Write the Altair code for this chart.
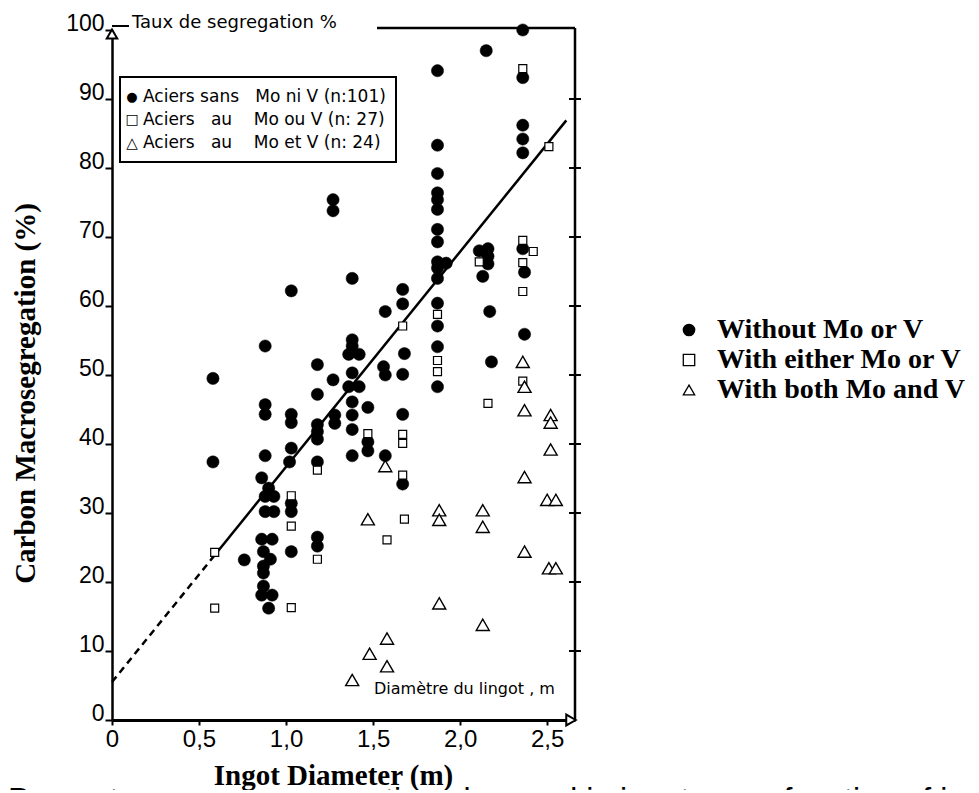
import altair as alt
import pandas as pd

# ---------------- data ----------------
GROUPS = ["Without Mo or V", "With either Mo or V", "With both Mo and V"]

# Steels without Mo or V (filled circles)
circ_x = [2.36, 2.15, 1.87, 2.36, 2.36, 2.36, 2.36, 1.87, 1.87, 1.87,
          1.87, 1.87, 1.87, 1.87, 1.27, 1.27, 2.11, 2.16, 2.16, 2.16,
          2.36, 2.13, 2.37, 2.37, 2.17, 2.18, 1.87, 1.87, 1.92, 1.87,
          1.87, 1.87, 1.87, 1.87, 1.67, 1.67, 1.68, 1.67, 1.67, 1.67,
          1.57, 1.56, 1.57, 1.57, 1.38, 1.38, 1.38, 1.36, 1.42, 1.38,
          1.36, 1.42, 1.38, 1.38, 1.38, 1.38, 1.27, 1.28, 1.28, 1.47,
          1.47, 1.47, 1.18, 1.18, 1.18, 1.18, 1.18, 1.18, 1.03, 1.03,
          1.03, 1.03, 1.02, 0.88, 0.88, 0.88, 0.88, 0.86, 0.90, 0.88,
          0.93, 0.58, 0.58, 0.88, 0.93, 0.86, 0.92, 0.87, 0.91, 0.87,
          0.87, 0.87, 0.86, 0.92, 0.90, 0.76, 1.03, 1.03, 1.03, 1.18,
          1.18]
circ_y = [100.0, 97.0, 94.1, 93.1, 86.2, 84.2, 82.2, 83.3, 79.2, 76.4,
          75.4, 74.0, 71.1, 69.3, 75.4, 73.8, 68.0, 68.3, 67.2, 66.1,
          68.3, 64.3, 64.9, 55.9, 59.2, 51.9, 66.4, 65.5, 66.2, 64.0,
          60.4, 57.1, 54.1, 48.3, 62.4, 60.3, 53.1, 50.1, 44.3, 34.2,
          59.2, 51.2, 50.0, 38.3, 64.0, 55.1, 54.2, 53.0, 53.0, 50.3,
          48.3, 48.3, 46.1, 44.2, 42.1, 38.3, 49.3, 44.2, 43.0, 45.3,
          40.3, 39.0, 51.5, 47.2, 42.8, 41.8, 40.7, 37.4, 62.2, 44.3,
          43.1, 39.4, 37.4, 54.2, 45.7, 44.3, 38.3, 35.1, 33.6, 32.4,
          32.4, 49.5, 37.4, 30.2, 30.2, 26.2, 26.2, 24.4, 23.3, 22.3,
          21.3, 19.4, 18.1, 18.1, 16.2, 23.2, 31.4, 30.2, 24.4, 26.5,
          25.2]

# Steels with Mo or V (open squares)
sq_x = [2.36, 2.51, 2.36, 2.42, 2.11, 2.36, 2.36, 2.16, 2.36, 1.87,
        1.87, 1.87, 1.67, 1.67, 1.67, 1.67, 1.47, 1.18, 1.03, 1.03,
        1.03, 0.59, 0.59, 1.18, 1.58, 1.68]
sq_y = [94.4, 83.1, 69.5, 67.9, 66.4, 66.3, 62.1, 45.9, 49.1, 58.8,
        52.1, 50.5, 57.1, 41.4, 40.1, 35.5, 41.5, 36.2, 32.5, 28.1,
        16.3, 24.3, 16.2, 23.3, 26.1, 29.1]

# Steels with Mo and V (open triangles)
tri_x = [2.36, 2.37, 2.37, 2.52, 2.52, 2.52, 2.37, 1.57, 1.47, 1.88,
         1.88, 2.13, 2.13, 2.37, 2.50, 2.55, 2.51, 2.55, 1.88, 2.13,
         1.58, 1.48, 1.58, 1.38]
tri_y = [51.9, 48.3, 44.9, 44.2, 43.1, 39.2, 35.2, 36.8, 29.1, 30.4,
         29.0, 30.4, 28.0, 24.4, 31.9, 31.9, 22.0, 22.0, 16.9, 13.8,
         11.8, 9.6, 7.8, 5.8]

# trend line (dashed extrapolation, then solid)
trend_dash_x = [0.0, 0.6]
trend_dash_y = [5.5, 24.2]
trend_solid_x = [0.6, 2.61]
trend_solid_y = [24.2, 86.9]

x_ticks = [0, 0.5, 1.0, 1.5, 2.0, 2.5]
y_ticks = [0, 10, 20, 30, 40, 50, 60, 70, 80, 90, 100]
frame_ticks = [10, 20, 30, 40, 50, 60, 70, 80, 90]

fr_symbols = ["\u25cf", "\u25a1", "\u25b3"]
fr_rows = ["Aciers sans\u00a0\u00a0 Mo ni V (n:101)",
           "Aciers\u00a0\u00a0 au\u00a0\u00a0\u00a0 Mo ou V (n: 27)",
           "Aciers\u00a0\u00a0 au\u00a0\u00a0\u00a0 Mo et V (n: 24)"]
caption = "Percentage macrosegregation observed in ingots as a function of ingot diameter"

# ---------------- build ----------------
pts = pd.DataFrame({
    "x": circ_x + sq_x + tri_x,
    "y": circ_y + sq_y + tri_y,
    "group": [GROUPS[0]] * len(circ_x) + [GROUPS[1]] * len(sq_x) + [GROUPS[2]] * len(tri_x),
})

W, H = 463, 690
xs = alt.Scale(domain=[0, 2.66], nice=False, zero=False)
ys = alt.Scale(domain=[0, 100], nice=False, zero=False)

x_axis = alt.Axis(
    values=x_ticks, grid=False,
    labelExpr="datum.value == 0 ? '0' : replace(format(datum.value, '.1f'), '.', ',')",
    domainColor="black", domainWidth=3, tickColor="black", tickWidth=2, tickSize=5,
    labelFont="Liberation Sans", labelFontSize=24, labelColor="black", labelPadding=2,
    labelFlush=False,
    title="Ingot Diameter (m)", titleFont="Liberation Serif", titleFontSize=29,
    titleFontWeight="bold", titleColor="black", titleX=221, titleY=55, titleBaseline="middle",
)
y_axis = alt.Axis(
    values=y_ticks, grid=False,
    domainColor="black", domainWidth=2.5, tickColor="black", tickWidth=2, tickSize=7,
    labelFont="Liberation Sans", labelFontSize=23, labelColor="black", labelPadding=1,
    labelBaseline="alphabetic", labelFlush=False,
    title="Carbon Macrosegregation (%)", titleFont="Liberation Serif", titleFontSize=29,
    titleFontWeight="bold", titleColor="black", titleX=-87, titleY=363, titleBaseline="middle",
)

X = alt.X("x:Q", scale=xs, axis=x_axis)
Y = alt.Y("y:Q", scale=ys, axis=y_axis)

legend = alt.Legend(
    title=None, orient="none", legendX=563, legendY=286, padding=0,
    labelFont="Liberation Serif", labelFontSize=28, labelFontWeight="bold", labelColor="black",
    labelLimit=500, labelOffset=14, rowPadding=2, symbolSize=130, symbolStrokeWidth=1.3,
)
shape_scale = alt.Scale(domain=GROUPS, range=["circle", "square", "triangle-up"])
fill_scale = alt.Scale(domain=GROUPS, range=["black", "white", "white"])
stroke_scale = alt.Scale(domain=GROUPS, range=["black", "black", "black"])

trend_dash = alt.Chart(pd.DataFrame({"x": trend_dash_x, "y": trend_dash_y})).mark_line(
    color="black", strokeWidth=2.5, strokeDash=[7, 5]).encode(x=X, y=Y)
trend_solid = alt.Chart(pd.DataFrame({"x": trend_solid_x, "y": trend_solid_y})).mark_line(
    color="black", strokeWidth=2.5).encode(x=X, y=Y)


def group_layer(g, size, sw):
    return alt.Chart(pts).transform_filter(alt.datum.group == g).mark_point(
        filled=True, size=size, strokeWidth=sw, opacity=1
    ).encode(
        x=X, y=Y,
        shape=alt.Shape("group:N", scale=shape_scale, legend=legend),
        fill=alt.Fill("group:N", scale=fill_scale, legend=legend),
        stroke=alt.Stroke("group:N", scale=stroke_scale, legend=legend),
    )


circles = group_layer(GROUPS[0], 150, 0.5)
squares = group_layer(GROUPS[1], 64, 1.2)
triangles = group_layer(GROUPS[2], 170, 1.4)

one = pd.DataFrame({"k": [0]})

frame_right = alt.Chart(one).mark_rule(color="black", strokeWidth=2.5).encode(
    x=alt.value(W), y=alt.value(-2), y2=alt.value(H))
frame_top = alt.Chart(one).mark_rule(color="black", strokeWidth=2.5).encode(
    x=alt.value(265), x2=alt.value(W), y=alt.value(-2))
right_ticks = alt.Chart(pd.DataFrame({"y": frame_ticks})).mark_rule(
    color="black", strokeWidth=2).encode(x=alt.value(W - 6), x2=alt.value(W + 6), y=Y)
hundred_line = alt.Chart(one).mark_rule(color="black", strokeWidth=2).encode(
    x=alt.value(0), x2=alt.value(17), y=alt.value(-4))
y_arrow = alt.Chart(one).mark_point(
    shape="triangle-up", size=110, filled=True, fill="white", stroke="black",
    strokeWidth=2, opacity=1).encode(x=alt.value(0), y=alt.value(4))
x_arrow = alt.Chart(one).mark_point(
    shape="triangle-right", size=120, filled=True, fill="white", stroke="black",
    strokeWidth=2, opacity=1).encode(x=alt.value(W - 4), y=alt.value(H))


def text_at(txt, x, y, **kw):
    style = dict(font="DejaVu Sans", fontSize=17, color="black", align="left", baseline="middle")
    style.update(kw)
    return alt.Chart(one).mark_text(text=txt, **style).encode(x=alt.value(x), y=alt.value(y))


fr_box = alt.Chart(one).mark_rect(fill="white", stroke="black", strokeWidth=2).encode(
    x=alt.value(8), x2=alt.value(284), y=alt.value(47), y2=alt.value(132))

row_y = [67, 90, 113]
fr_layers = []
for sym, row, yy, fs in zip(fr_symbols, fr_rows, row_y, [13, 14, 15]):
    fr_layers.append(text_at(sym, 20, yy, align="center", fontSize=fs))
    fr_layers.append(text_at(row, 31, yy))

taux = text_at("Taux de segregation %", 20, -7, fontSize=18)
diam = text_at("Diam\u00e8tre du lingot , m", 262, 659, fontSize=16)
cap = text_at(caption, -104, 780, font="Liberation Sans", fontSize=32, baseline="alphabetic")

chart = alt.layer(
    trend_dash, trend_solid, frame_right, frame_top, right_ticks, hundred_line,
    fr_box, *fr_layers, taux, diam, cap,
    circles, squares, triangles, y_arrow, x_arrow,
).properties(
    width=W, height=H,
    padding={"left": 104, "top": 22, "right": 396, "bottom": 70},
    autosize=alt.AutoSizeParams(type="none"),
    background="white",
).configure_view(strokeWidth=0)

chart.save("out.html", embed_options={"renderer": "svg", "actions": False})
